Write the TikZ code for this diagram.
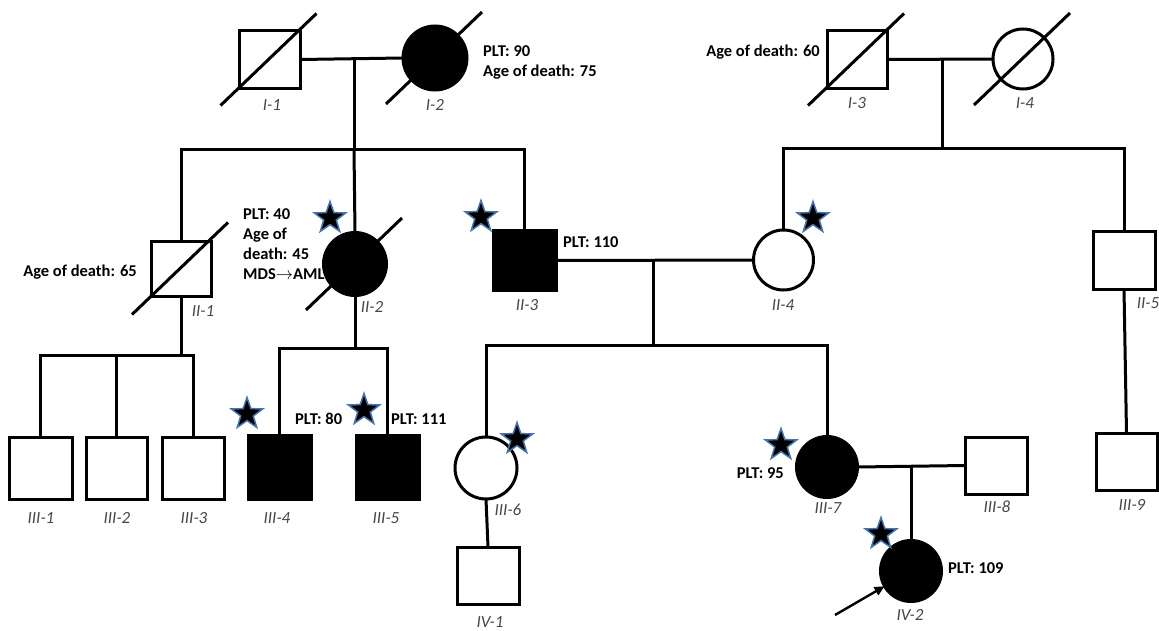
\documentclass[tikz,border=0pt]{standalone}
\usepackage{fontspec}
\setmainfont{Carlito}
\usetikzlibrary{shapes.geometric,calc,arrows.meta}
\begin{document}
\begin{tikzpicture}[x=1pt,y=-1pt,
  conn/.style={line width=3pt},
  male/.style={draw,line width=3pt,rectangle,minimum width=61pt,minimum height=58pt,inner sep=0pt,outer sep=0pt},
  female/.style={draw,line width=3pt,circle,minimum size=62pt,inner sep=0pt,outer sep=0pt},
  aff/.style={fill=black},
  starmark/.style={star,star points=5,star point ratio=2.5,minimum size=33pt,inner sep=0pt,fill=black,draw={rgb,255:red,70;green,115;blue,170},line width=1.5pt},
  txt/.style={font=\bfseries\fontsize{16.5}{20}\selectfont,inner sep=0pt,align=left},
  lab/.style={font=\itshape\fontsize{17}{20}\selectfont,text=black!72,inner sep=0pt},
  arr/.style={line width=2.4pt,-{Triangle[length=10pt,width=9pt]}}
]
\useasboundingbox (0,0) rectangle (1159,631);
\fill[white] (0,0) rectangle (1159,631);

% Generation I
\node[male] (I1) at (269.5,59.5) {};
\node[female,aff,minimum size=64pt] (I2) at (435,58) {};
\node[male,minimum width=60pt] (I3) at (857,59.5) {};
\node[female,minimum size=60pt] (I4) at (1023,59) {};

% Generation II
\node[male,minimum width=60pt,minimum height=55pt] (II1) at (181,268.5) {};
\node[female,aff,minimum size=63pt] (II2) at (355,264) {};
\node[male,aff,minimum width=63pt,minimum height=59pt] (II3) at (524.5,260.5) {};
\node[female,minimum size=60pt] (II4) at (783.5,260) {};
\node[male,minimum width=62pt,minimum height=57pt] (II5) at (1124,260.5) {};

% Generation III
\node[male,minimum width=63pt,minimum height=62pt] (III1) at (40.5,468) {};
\node[male,minimum width=61pt,minimum height=62pt] (III2) at (116.5,468) {};
\node[male,minimum width=62pt,minimum height=62pt] (III3) at (193,468) {};
\node[male,aff,minimum width=63pt,minimum height=64pt] (III4) at (279.5,467) {};
\node[male,aff,minimum width=63pt,minimum height=64pt] (III5) at (387.5,467) {};
\node[female] (III6) at (486,468) {};
\node[female,aff,minimum size=61pt] (III7) at (827,467) {};
\node[male,minimum width=62pt,minimum height=57pt] (III8) at (996,465.5) {};
\node[male,minimum width=61pt,minimum height=57pt] (III9) at (1126.5,461.5) {};

% Generation IV
\node[male,minimum width=62pt,minimum height=57pt] (IV1) at (488,575.5) {};
\node[female,aff,minimum size=61pt] (IV2) at (911,571) {};

% deceased slashes
\foreach \n in {I1,I2,I3,I4,II1,II2}{
  \draw[conn] ($(\n)+(-49,46)$) -- ($(\n)+(47,-46)$);
}

% coordinates for connectors
\coordinate (m1) at (354,59);
\coordinate (s1) at (354,150);
\coordinate (m2) at (942,59);
\coordinate (s2) at (942,149);
\coordinate (m3) at (653,260);
\coordinate (s3) at (653,345);
\coordinate (s4) at (183,355);
\coordinate (s5) at (355,348);
\coordinate (m4) at (911,466);
\coordinate (arrstart) at (835,615);

% Gen I families
\draw[conn] (I1.east) -- (I2.west);
\draw[conn] (m1) -- (s1);
\draw[conn] (II1.north) -- (II1.north |- s1) -- (II3.north |- s1) -- (II3.north);
\draw[conn] (s1) -- (II2.north);
\draw[conn] (I3.east) -- (I4.west);
\draw[conn] (m2) -- (s2);
\draw[conn] (II4.north) -- (II4.north |- s2) -- (II5.north |- s2) -- (II5.north);

% Gen II families
\draw[conn] (II3.east) -- (II4.west);
\draw[conn] (m3) -- (s3);
\draw[conn] (III6.north) -- (III6.north |- s3) -- (III7.north |- s3) -- (III7.north);
\draw[conn] (II1.south) -- (II1.south |- s4);
\draw[conn] (III1.north) -- (III1.north |- s4) -- (III3.north |- s4) -- (III3.north);
\draw[conn] (III2.north) -- (III2.north |- s4);
\draw[conn] (II2.south) -- (s5);
\draw[conn] (III4.north) -- (III4.north |- s5) -- (III5.north |- s5) -- (III5.north);
\draw[conn] (II5.south) -- (III9.north);

% Gen III families
\draw[conn] (III6.south) -- (IV1.north);
\draw[conn] (III7.east) -- (III8.west);
\draw[conn] (m4) -- (IV2.north);

% proband arrow
\draw[arr] (arrstart) -- (IV2.210);

% stars
\node[starmark] (st1) at (330,218) {};
\node[starmark] (st2) at (481,217) {};
\node[starmark] (st3) at (813,218) {};
\node[starmark] (st4) at (247,414) {};
\node[starmark] (st5) at (364,410) {};
\node[starmark] (st6) at (517,439) {};
\node[starmark] (st7) at (781,445) {};
\node[starmark] (st8) at (881,534) {};

% clinical texts
\node[txt,anchor=west] (t1) at (483,62) {PLT: 90\\Age of death: 75};
\node[txt,anchor=east] (t2) at (820,52) {Age of death: 60};
\node[txt,anchor=north west] (t3) at (243,208) {PLT: 40\\Age of\\death: 45\\MDS$\rightarrow$AML};
\node[txt,anchor=west] (t4) at (563,242) {PLT: 110};
\node[txt,anchor=east] (t5) at (137,272) {Age of death: 65};
\node[txt,anchor=west] (t6) at (295,419) {PLT: 80};
\node[txt,anchor=west] (t7) at (391,419) {PLT: 111};
\node[txt,anchor=east] (t8) at (784,473) {PLT: 95};
\node[txt,anchor=west] (t9) at (948,568) {PLT: 109};

% identifiers
\node[lab] (lI1) at (272,105) {I-1};
\node[lab] (lI2) at (435,105) {I-2};
\node[lab] (lI3) at (857,103) {I-3};
\node[lab] (lI4) at (1025,103) {I-4};
\node[lab] (lII1) at (203,311) {II-1};
\node[lab] (lII2) at (372,307) {II-2};
\node[lab] (lII3) at (527,305) {II-3};
\node[lab] (lII4) at (783,305) {II-4};
\node[lab] (lII5) at (1148,303) {II-5};
\node[lab] (lIII1) at (41,518) {III-1};
\node[lab] (lIII2) at (117,518) {III-2};
\node[lab] (lIII3) at (194,518) {III-3};
\node[lab] (lIII4) at (277,518) {III-4};
\node[lab] (lIII5) at (386,518) {III-5};
\node[lab] (lIII6) at (508,510) {III-6};
\node[lab] (lIII7) at (828,508) {III-7};
\node[lab] (lIII8) at (997,507) {III-8};
\node[lab] (lIII9) at (1132,505) {III-9};
\node[lab] (lIV1) at (490,622) {IV-1};
\node[lab] (lIV2) at (910,615) {IV-2};
\end{tikzpicture}
\end{document}
